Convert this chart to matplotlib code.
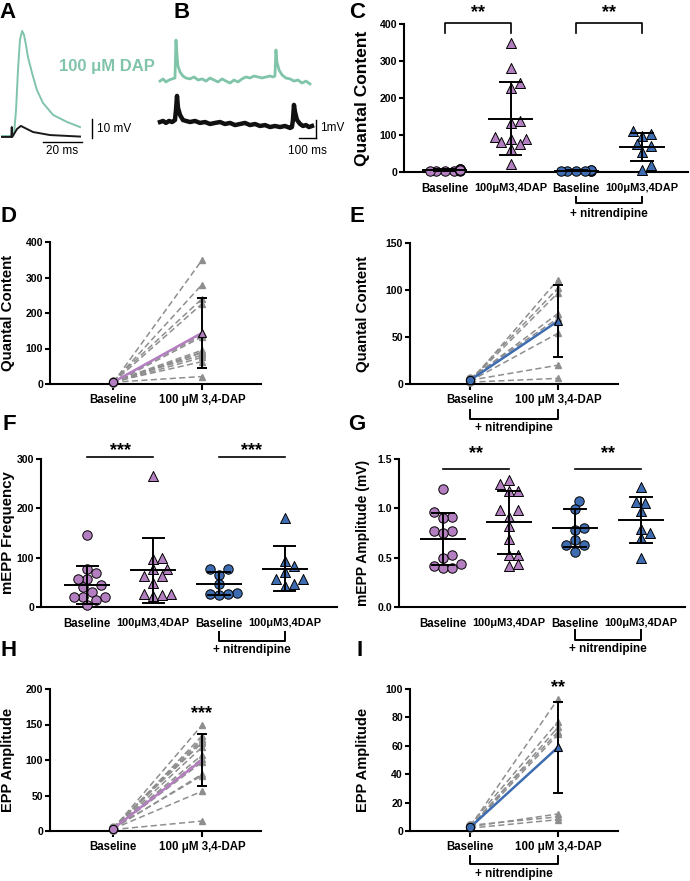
import numpy as np
import matplotlib
matplotlib.use('Agg')
import matplotlib.pyplot as plt
import matplotlib.transforms as mtransforms

plt.rcParams['font.family'] = ['Liberation Sans', 'DejaVu Sans']
plt.rcParams['font.weight'] = 'bold'
plt.rcParams['axes.labelweight'] = 'bold'
plt.rcParams['axes.linewidth'] = 1.5

W, H = 690, 881
PURPLE = '#b47fc0'
BLUE = '#3e6cb0'
GREEN = '#80c4aa'
GREY = '#8e8e8e'

# ---------------- data ----------------
# A: evoked EPP traces (ms, mV)
epp_dap_t = [0, 5.6, 6.2, 7.2, 8.2, 9.2, 10.3, 11.3, 12.3, 13.3, 15.4, 17.9, 21.0, 26.2, 33.3, 40.0]
epp_dap_v = [0, 0, 1.6, 13.7, 34.7, 50.5, 55.3, 53.2, 47.9, 41.6, 33.2, 24.2, 17.4, 11.1, 7.4, 4.7]
epp_ctl_t = [0, 4.8, 5.0, 5.2, 6.2, 7.7, 9.7, 11.8, 15.9, 24.6, 40.0]
epp_ctl_v = [-0.5, -0.5, 4.7, -0.5, 1.1, 3.7, 5.3, 4.2, 2.1, 0.5, -0.3]

# B: spontaneous mEPP traces (ms, mV)
mepp_dap_t = [0, 18, 35, 53, 71, 88, 94, 100, 106, 118, 135, 153, 176, 200, 224, 247, 271, 294,
              318, 341, 365, 388, 412, 435, 459, 482, 506, 529, 553, 576, 600, 624, 647, 665,
              676, 682, 688, 700, 718, 741, 765, 788, 812, 835, 859, 882]
mepp_dap_v = [-0.06, 0.06, -0.11, 0, 0.06, 0.11, 2.22, 1.39, 0.78, 0.44, 0.22, 0.11, 0.06, 0.17,
              0, 0.06, -0.06, 0.11, 0, -0.11, 0.06, -0.06, -0.17, 0, -0.11, 0.06, 0.17, 0.11,
              0.22, 0.17, 0.11, 0.17, 0.22, 0.17, 0.22, 1.67, 1.0, 0.56, 0.28, 0.11, 0.06, -0.06,
              0, -0.17, -0.06, -0.22]
mepp_ctl_t = [0, 18, 35, 53, 71, 88, 94, 100, 106, 118, 135, 153, 176, 206, 235, 265, 294, 324,
              353, 382, 412, 441, 471, 500, 529, 559, 588, 618, 647, 676, 706, 735, 765, 776,
              782, 788, 794, 806, 824, 841, 859, 876, 894]
mepp_ctl_v = [0.11, 0.17, 0.06, 0.17, 0.11, 0.22, 0.78, 1.56, 0.89, 0.5, 0.22, 0.17, 0.11, 0.17,
              0.06, 0.11, 0, 0.06, 0.11, 0, 0.06, -0.06, 0, 0.06, -0.06, 0, -0.11, -0.06, -0.17,
              -0.11, -0.17, -0.11, -0.22, -0.17, 0.22, 1.06, 0.67, 0.22, 0, -0.11, -0.06, -0.17,
              -0.11]

# quantal content
qc_base_ctrl = [3, 5, 8, 4, 6, 2, 7, 5, 3, 9, 4, 6, 5]
qc_dap_ctrl = [349, 280, 240, 226, 138, 133, 95, 90, 88, 81, 75, 63, 21]
qc_base_nit = [2, 4, 3, 5, 6, 3, 4, 2]
qc_dap_nit = [111, 102, 97, 75, 70, 54, 20, 6]
qc_mean = [5, 144, 4, 67]
qc_sd = [2, 98, 1.5, 38]

# mEPP frequency
freq_base_ctrl = [145, 78, 68, 56, 56, 45, 41, 31, 20, 20, 20, 15, 5]
freq_dap_ctrl = [266, 100, 98, 78, 78, 62, 62, 48, 26, 22, 24, 26]
freq_base_nit = [78, 78, 65, 46, 29, 26, 24, 27]
freq_dap_nit = [180, 83, 94, 71, 56, 56, 42, 46]
freq_mean = [45, 74, 47, 78]
freq_sd = [38, 65, 23, 45]

# mEPP amplitude (mV)
amp_base_ctrl = [1.20, 0.91, 0.90, 0.96, 0.77, 0.77, 0.75, 0.50, 0.53, 0.42, 0.40, 0.40, 0.44]
amp_dap_ctrl = [1.29, 1.25, 1.18, 1.18, 0.98, 0.98, 0.91, 0.82, 0.69, 0.53, 0.53, 0.44, 0.42]
amp_base_nit = [1.07, 0.99, 0.80, 0.78, 0.68, 0.63, 0.63, 0.56]
amp_dap_nit = [1.22, 1.06, 1.05, 0.97, 0.79, 0.75, 0.70, 0.50]
amp_mean = [0.69, 0.86, 0.80, 0.88]
amp_sd = [0.26, 0.32, 0.19, 0.235]

# EPP amplitude
epp_base_ctrl = [3, 2, 4, 3, 5, 2, 3, 4, 2, 3, 4, 3, 2]
epp_dap_ctrl = [149, 134, 130, 127, 124, 118, 107, 102, 97, 80, 78, 56, 14]
epp_mean_ctrl = [3, 100]
epp_sd_ctrl = 37
epp_base_nit = [3, 4, 2, 3, 2, 3, 4, 2]
epp_dap_nit = [93, 77, 73, 70, 68, 12, 10, 8]
epp_mean_nit = [2.5, 59]
epp_sd_nit = 32

cats4 = ['Baseline', '100μM3,4DAP', 'Baseline', '100μM3,4DAP']
cats2 = ['Baseline', '100 μM 3,4-DAP']


# ---------------- helpers ----------------
def rect(x0, x1, ytop, ybot):
    return [x0 / W, 1 - ybot / H, (x1 - x0) / W, (ybot - ytop) / H]


def style(ax, ylim, yticks, xlim, xticks_on):
    for s in ['top', 'right']:
        ax.spines[s].set_visible(False)
    ax.set_ylim(*ylim)
    ax.set_yticks(yticks)
    ax.set_xlim(*xlim)
    ax.tick_params(axis='y', width=1.5, length=3.5, pad=1.5, labelsize=7.6)
    if xticks_on:
        ax.tick_params(axis='x', width=1.5, length=4, pad=3, labelsize=8.3)
    else:
        ax.tick_params(axis='x', length=0, pad=8, labelsize=8.3)


def swarm(vals, ypx, xpx, d, maxw):
    vals = np.asarray(vals, float)
    offs = np.zeros(len(vals))
    placed = []
    cands = [0.0]
    for k in range(1, 30):
        cands += [k * d / 2, -k * d / 2]
    for i in np.argsort(vals):
        y = vals[i] * ypx
        best = cands[-1]
        for c in cands:
            if all((c - a) ** 2 + (y - b) ** 2 >= 0.85 * d * d for a, b in placed):
                best = c
                break
        best = max(-maxw, min(maxw, best))
        placed.append((best, y))
        offs[i] = best / xpx
    return offs


def scatter_panel(ax, groups, means, sds, ypx, xpx, maxw):
    colors = [PURPLE, PURPLE, BLUE, BLUE]
    marks = ['o', '^', 'o', '^']
    for i, vals in enumerate(groups):
        offs = swarm(vals, ypx, xpx, 9, maxw)
        ax.scatter(i + offs, vals, s=46 if marks[i] == 'o' else 52, marker=marks[i],
                   c=colors[i], edgecolors='k', linewidths=0.7, zorder=3, clip_on=False)
        m, s = means[i], sds[i]
        ax.plot([i - 0.33, i + 0.33], [m, m], color='k', lw=1.4, zorder=4)
        ax.plot([i, i], [m - s, m + s], color='k', lw=1.4, zorder=4)
        for v in (m - s, m + s):
            ax.plot([i - 0.16, i + 0.16], [v, v], color='k', lw=1.4, zorder=4)
    ax.set_xticks(range(4))
    ax.set_xticklabels(cats4)
    for lbl in ax.get_xticklabels()[1::2]:
        lbl.set_fontsize(7.9)


def paired_panel(ax, base, dap, color, mean, sd, show_mean_marker=True):
    for b, d in zip(base, dap):
        ax.plot([0, 1], [b, d], color=GREY, lw=1.1, dashes=(4, 2.2), zorder=2)
        ax.plot(1, d, marker='^', ms=5, color=GREY, zorder=2, clip_on=False)
        ax.plot(0, b, marker='o', ms=5, color=GREY, zorder=2, clip_on=False)
    ax.plot([0, 1], mean, color=color, lw=1.8, zorder=3)
    ax.errorbar(1, mean[1], yerr=sd, color='k', capsize=3.5, lw=1.4, capthick=1.4, zorder=4)
    ax.plot(0, mean[0], 'o', mfc=color, mec='k', mew=0.8, ms=6, zorder=5, clip_on=False)
    if show_mean_marker:
        ax.plot(1, mean[1], '^', mfc=color, mec='k', mew=0.8, ms=6, zorder=5)
    ax.set_xticks([0, 1])
    ax.set_xticklabels(cats2)


def nit_bracket(ax, x0, x1, ylegs, ybar, ytext):
    tr = mtransforms.blended_transform_factory(ax.transData, ax.transAxes)
    ax.plot([x0, x0, x1, x1], [ylegs, ybar, ybar, ylegs], color='k', lw=1.4,
            transform=tr, clip_on=False)
    ax.text((x0 + x1) / 2, ytext, '+ nitrendipine', transform=tr, ha='center', va='center',
            fontsize=8.5)


fig = plt.figure(figsize=(W / 100, H / 100), dpi=100)

# ---------------- A and B traces ----------------
ax0 = fig.add_axes([0, 0, 1, 1])
ax0.set_xlim(0, W)
ax0.set_ylim(H, 0)
ax0.axis('off')

ax0.plot(2 + np.array(epp_dap_t) * 1.95, 136 - np.array(epp_dap_v) * 1.9, color=GREEN, lw=1.4)
ax0.plot(2 + np.array(epp_ctl_t) * 1.95, 136 - np.array(epp_ctl_v) * 1.9, color='#1a1a1a', lw=1.4)
ax0.plot([92, 92], [119, 138], color='k', lw=1.0)
ax0.plot([43, 82], [142, 142], color='k', lw=1.0)
ax0.text(97, 129, '10 mV', fontsize=8.5, fontweight='normal', va='center')
ax0.text(62, 151, '20 ms', fontsize=8.5, fontweight='normal', ha='center', va='center')
ax0.text(107, 67, '100 μM DAP', color=GREEN, fontsize=12, ha='center', va='center')

ax0.plot(160 + np.array(mepp_dap_t) * 0.17, 80 - np.array(mepp_dap_v) * 18, color=GREEN, lw=2.0)
ax0.plot(160 + np.array(mepp_ctl_t) * 0.17, 124 - np.array(mepp_ctl_v) * 18, color='#111111', lw=3.2)
ax0.plot([316, 316], [120, 138], color='k', lw=1.0)
ax0.plot([299, 316], [138, 138], color='k', lw=1.0)
ax0.text(320, 128, '1mV', fontsize=8.5, fontweight='normal', va='center')
ax0.text(307, 151, '100 ms', fontsize=8.5, fontweight='normal', ha='center', va='center')

# ---------------- C ----------------
axC = fig.add_axes(rect(404, 688, 24, 172))
style(axC, (0, 400), [0, 100, 200, 300, 400], (-0.62, 3.70), False)
scatter_panel(axC, [qc_base_ctrl, qc_dap_ctrl, qc_base_nit, qc_dap_nit], qc_mean, qc_sd,
              148 / 400, 65.7, 15)
axC.set_ylabel('Quantal Content', fontsize=12.5)
axC.yaxis.set_label_coords(-0.12, 0.5)
for a, b in [(0, 1), (2, 3)]:
    axC.plot([a, a, b, b], [376, 403, 403, 376], color='k', lw=1.2, clip_on=False)
    axC.text((a + b) / 2, 418, '**', ha='center', va='baseline', fontsize=13)
nit_bracket(axC, 2, 3, -0.169, -0.209, -0.285)

# ---------------- D ----------------
axD = fig.add_axes(rect(50, 261, 242, 384))
style(axD, (0, 400), [0, 100, 200, 300, 400], (-0.708, 1.663), True)
paired_panel(axD, qc_base_ctrl, qc_dap_ctrl, PURPLE, [qc_mean[0], qc_mean[1]], qc_sd[1])
axD.set_ylabel('Quantal Content', fontsize=10.8)
axD.yaxis.set_label_coords(-0.166, 0.5)

# ---------------- E ----------------
axE = fig.add_axes(rect(410, 618, 243, 384))
style(axE, (0, 150), [0, 50, 100, 150], (-0.682, 1.682), True)
paired_panel(axE, qc_base_nit, qc_dap_nit, BLUE, [qc_mean[2], qc_mean[3]], qc_sd[3])
axE.set_ylabel('Quantal Content', fontsize=10.8)
axE.yaxis.set_label_coords(-0.19, 0.5)
nit_bracket(axE, 0, 1, -0.184, -0.248, -0.312)

# ---------------- F ----------------
axF = fig.add_axes(rect(41, 337, 459, 607))
style(axF, (0, 300), [0, 100, 200, 300], (-0.70, 3.79), False)
scatter_panel(axF, [freq_base_ctrl, freq_dap_ctrl, freq_base_nit, freq_dap_nit], freq_mean,
              freq_sd, 148 / 300, 66, 24)
axF.set_ylabel('mEPP Frequency', fontsize=10.8)
axF.yaxis.set_label_coords(-0.088, 0.5)
for a, b in [(0, 1), (2, 3)]:
    axF.plot([a, b], [304, 304], color='k', lw=1.2, clip_on=False)
    axF.text((a + b) / 2, 308, '***', ha='center', va='baseline', fontsize=13)
nit_bracket(axF, 2, 3, -0.169, -0.23, -0.29)

# ---------------- G ----------------
axG = fig.add_axes(rect(399, 685, 459, 607))
style(axG, (0, 1.5), [0, 0.5, 1.0, 1.5], (-0.667, 3.667), False)
axG.set_yticklabels(['0.0', '0.5', '1.0', '1.5'])
scatter_panel(axG, [amp_base_ctrl, amp_dap_ctrl, amp_base_nit, amp_dap_nit], amp_mean, amp_sd,
              148 / 1.5, 66, 24)
axG.set_ylabel('mEPP Amplitude (mV)', fontsize=10)
axG.yaxis.set_label_coords(-0.101, 0.5)
for a, b in [(0, 1), (2, 3)]:
    axG.plot([a, b], [1.40, 1.40], color='k', lw=1.2, clip_on=False)
    axG.text((a + b) / 2, 1.505, '**', ha='center', va='baseline', fontsize=13)
nit_bracket(axG, 2, 3, -0.155, -0.223, -0.284)

# ---------------- H ----------------
axH = fig.add_axes(rect(50, 261, 689, 831))
style(axH, (0, 200), [0, 50, 100, 150, 200], (-0.708, 1.663), True)
paired_panel(axH, epp_base_ctrl, epp_dap_ctrl, PURPLE, epp_mean_ctrl, epp_sd_ctrl, False)
axH.set_ylabel('EPP Amplitude', fontsize=10.5)
axH.yaxis.set_label_coords(-0.166, 0.5)
axH.text(1, 158.5, '***', ha='center', va='baseline', fontsize=13)

# ---------------- I ----------------
axI = fig.add_axes(rect(410, 618, 689, 831))
style(axI, (0, 100), [0, 20, 40, 60, 80, 100], (-0.682, 1.682), True)
paired_panel(axI, epp_base_nit, epp_dap_nit, BLUE, epp_mean_nit, epp_sd_nit)
axI.set_ylabel('EPP Amplitude', fontsize=10.5)
axI.yaxis.set_label_coords(-0.192, 0.5)
axI.text(1, 97.5, '**', ha='center', va='baseline', fontsize=13)
nit_bracket(axI, 0, 1, -0.176, -0.232, -0.303)

# ---------------- panel letters ----------------
for letter, x, y in [('A', 8, 13), ('B', 182, 13), ('C', 357, 13), ('D', 8, 217),
                     ('E', 357, 217), ('F', 9, 425), ('G', 357, 425), ('H', 9, 650),
                     ('I', 360, 650)]:
    fig.text(x / W, 1 - y / H, letter, fontsize=16, ha='center', va='center')

fig.savefig('out.png', dpi=100)
